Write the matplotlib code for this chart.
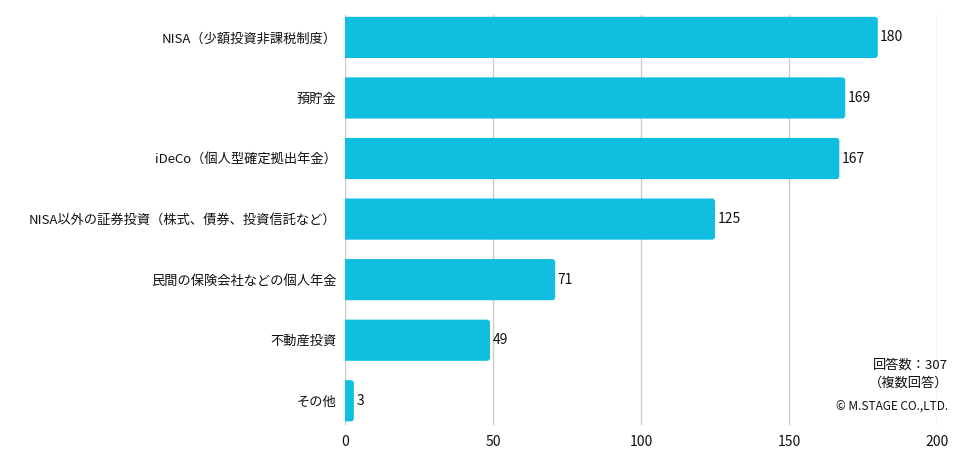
import matplotlib
matplotlib.use("Agg")
import matplotlib.pyplot as plt
from matplotlib.patches import FancyBboxPatch

plt.rcParams['font.family'] = ['Noto Sans CJK JP', 'DejaVu Sans']

categories = [
    "NISA（少額投資非課税制度）",
    "預貯金",
    "iDeCo（個人型確定拠出年金）",
    "NISA以外の証券投資（株式、債券、投資信託など）",
    "民間の保険会社などの個人年金",
    "不動産投資",
    "その他",
]
values = [180, 169, 167, 125, 71, 49, 3]
xticks = [0, 50, 100, 150, 200]
bar_color = "#10BFDF"
text_color = "#111111"

fig = plt.figure(figsize=(9.76, 4.59), dpi=100)
ax = fig.add_axes([345/976, 1-425/459, (937-345)/976, (425-15)/459])

y = list(range(len(categories)))
bars = ax.barh(y, values, height=0.68, color=bar_color, zorder=3)
# rounded right corners
px_per_x = (937-345)/200
px_per_y = 60.6
r = 1.0  # x units (~3px)
for rect in bars:
    rect.set_visible(False)
    x0, y0 = rect.get_x(), rect.get_y()
    w, h = rect.get_width(), rect.get_height()
    p = FancyBboxPatch((x0 - 3, y0), w + 3, h,
                       boxstyle=f"round,pad=0,rounding_size={r}",
                       mutation_aspect=(r*px_per_x/px_per_y)/r,
                       facecolor=bar_color, edgecolor='none', zorder=3,
                       clip_on=True)
    ax.add_patch(p)

for yi, v in zip(y, values):
    ax.text(v + 0.8, yi, str(v), va='center', ha='left', fontsize=10, color=text_color)

ax.set_xlim(0, 200)
ax.set_ylim(6.4, -0.37)
ax.set_yticks(y)
ax.set_yticklabels(categories, fontsize=9.5, color=text_color)
ax.set_xticks(xticks)
ax.set_xticklabels([str(t) for t in xticks], fontsize=10, color=text_color)
ax.tick_params(axis='both', length=0, pad=7)
ax.tick_params(axis='y', pad=6)
ax.grid(axis='x', color='#cccccc', linewidth=1, zorder=0)
for s in ax.spines.values():
    s.set_visible(False)

fig.text(948/976, 1-365/459, "回答数：307", ha='right', va='center', fontsize=9.5, color=text_color)
fig.text(948/976, 1-383/459, "（複数回答）", ha='right', va='center', fontsize=9.5, color=text_color)
fig.text(948/976, 1-407/459, "© M.STAGE CO.,LTD.", ha='right', va='center', fontsize=8.5, color=text_color)

fig.savefig("out.png", dpi=100)
